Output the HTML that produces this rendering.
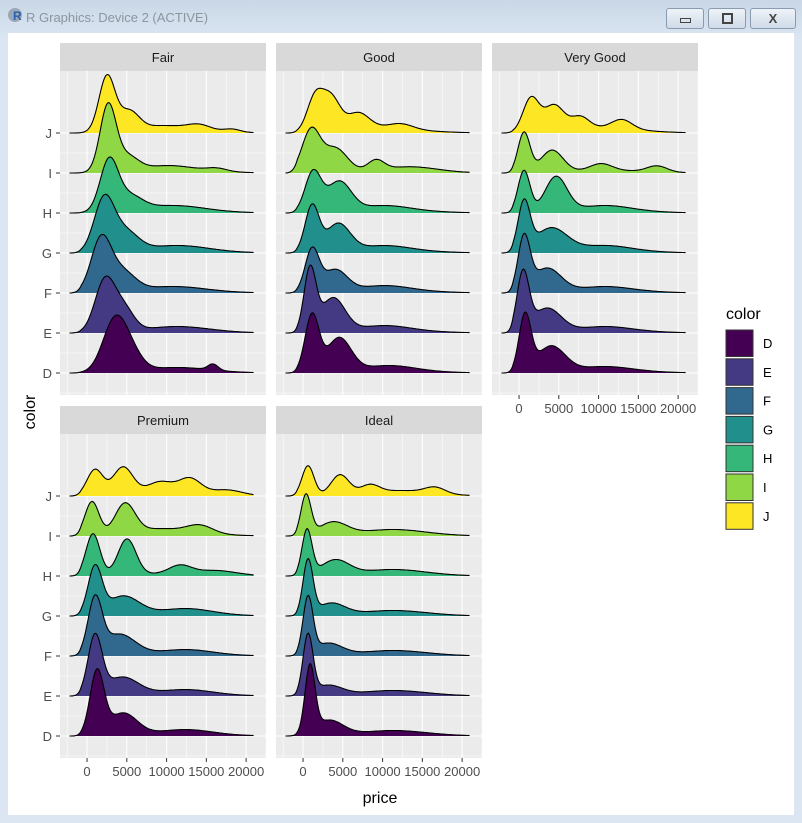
<!DOCTYPE html>
<html><head><meta charset="utf-8"><style>
body{margin:0;width:802px;height:823px;overflow:hidden;background:#dce6f1;font-family:"Liberation Sans",sans-serif}
#win{position:absolute;left:0;top:0;width:802px;height:823px;background:linear-gradient(#c9d7e6,#dbe6f2 40px,#dbe6f2)}
#client{position:absolute;left:8px;top:33px;width:786px;height:782px;background:#fff}
.btn{position:absolute;top:8px;height:19px;border:1px solid #8a9bb0;border-radius:3px;background:linear-gradient(#eef3f8,#cfdbe8)}
</style></head><body>
<div id="win">
<div style="position:absolute;left:8px;top:8px;width:14px;height:14px;border-radius:7px;background:#9aa7b5"></div>
<div style="position:absolute;left:13px;top:9px;font:bold 12px 'Liberation Sans';color:#2a5fb0">R</div>
<div style="position:absolute;left:26px;top:10px;font-size:13px;color:#8c96a0">R Graphics: Device 2 (ACTIVE)</div>
<div class="btn" style="left:666px;width:36px"><div style="position:absolute;left:13px;top:9px;width:9px;height:3px;border:1px solid #444;"></div></div>
<div class="btn" style="left:708px;width:36px"><div style="position:absolute;left:13px;top:4px;width:7px;height:7px;border:2px solid #444;"></div></div>
<div class="btn" style="left:750px;width:44px;text-align:center;font:bold 13px 'Liberation Sans';color:#444;line-height:19px">X</div>
<div id="client"></div>
<svg id="s" width="802" height="823" style="position:absolute;left:0;top:0"></svg>
</div>
<script>
var s=document.getElementById('s'),out='';
var cols=['#440154','#443A83','#31688E','#21908C','#35B779','#8FD744','#FDE725'];
var names=['D','E','F','G','H','I','J'];
var W=206;
function px(L,p){return L+(p+3400)*W/25900;}
var T=[[90,40,2.5]];
var data={
Fair:{J:[[20,8,56],[42,10,20],[75,20,5],[112,12,6],[145,8,3]],
I:[[21,8,66],[40,11,15],[80,25,5],[130,10,3]],
H:[[22,9,50],[42,13,15],[85,30,5]],
G:[[17,10,52],[38,13,20],[90,30,5]],
F:[[14,10,52],[35,13,20],[85,30,4]],
E:[[18,10,52],[37,10,22],[90,30,4]],
D:[[28,12,52],[45,11,14],[90,30,3],[126,5,6]]},
Good:{J:[[12,8,34],[28,9,33],[55,11,16],[98,12,5],[70,30,3]],
I:[[8,9,42],[32,12,24],[73,8,10],[110,25,4]],
H:[[10,8,40],[36,12,30],[80,25,5]],
G:[[9,7,46],[35,12,28],[80,25,5]],
F:[[9,7,42],[32,12,22],[80,25,5]],
E:[[7,6,62],[30,12,34],[80,25,5]],
D:[[9,7,57],[36,12,34],[85,25,5]]},
'Very Good':{J:[[12,8,34],[35,10,26],[61,9,12],[103,10,9],[80,30,3]],
I:[[5,6,40],[33,11,22],[82,11,7],[138,10,6]],
H:[[5,6,42],[37,11,35],[85,25,5]],
G:[[5,6,48],[32,16,24],[85,25,5]],
F:[[5,6,53],[28,14,24],[85,25,4]],
E:[[4,6,58],[28,14,24],[85,25,4]],
D:[[6,6,56],[32,14,26],[85,25,4]]},
Premium:{J:[[8,8,26],[36,10,28],[73,13,12],[103,11,15],[140,15,5]],
I:[[5,7,34],[38,10,30],[113,13,8],[70,25,5]],
H:[[6,7,42],[40,9,36],[93,11,8],[130,20,4]],
G:[[8,7,47],[36,16,19],[100,25,5]],
F:[[8,7,54],[32,16,21],[100,25,4]],
E:[[8,7,58],[35,16,18],[100,25,4]],
D:[[10,7,63],[36,14,22],[100,25,4]]},
Ideal:{J:[[5,6,30],[37,9,20],[67,9,8],[132,10,6],[100,30,3]],
I:[[3,5,40],[30,14,13],[90,30,4]],
H:[[4,5,45],[32,14,15],[90,30,4]],
G:[[5,5,54],[28,14,12],[90,30,3]],
F:[[5,5,56],[25,14,12],[90,30,3]],
E:[[5,5,59],[25,14,10],[90,30,3]],
D:[[7,5,66],[26,14,15],[90,30,3]]}};
function panel(name,L,top,ylab,xlab){
 var B=top+28,H=324;
 out+='<rect x="'+L+'" y="'+top+'" width="'+W+'" height="28" fill="#D9D9D9"/>';
 out+='<text x="'+(L+W/2)+'" y="'+(top+19)+'" font-size="13" text-anchor="middle" fill="#1a1a1a">'+name+'</text>';
 out+='<rect x="'+L+'" y="'+B+'" width="'+W+'" height="'+H+'" fill="#EBEBEB"/>';
 for(var p=-2500;p<=22500;p+=2500){var x=px(L,p);if(x<L||x>L+W)continue;var maj=p%5000==0;
  out+='<line x1="'+x+'" x2="'+x+'" y1="'+B+'" y2="'+(B+H)+'" stroke="#fff" stroke-width="'+(maj?1.1:0.55)+'"/>';}
 var base=function(i){return B+62+40*(6-i);};
 for(var i=0;i<7;i++){out+='<line x1="'+L+'" x2="'+(L+W)+'" y1="'+base(i)+'" y2="'+base(i)+'" stroke="#fff" stroke-width="1.1"/>';
  out+='<line x1="'+L+'" x2="'+(L+W)+'" y1="'+(base(i)+20)+'" y2="'+(base(i)+20)+'" stroke="#fff" stroke-width="0.55"/>';
  if(ylab){out+='<line x1="'+(L-4)+'" x2="'+L+'" y1="'+base(i)+'" y2="'+base(i)+'" stroke="#333"/>';
   out+='<text x="'+(L-8)+'" y="'+(base(i)+5)+'" font-size="13" text-anchor="end" fill="#4d4d4d">'+names[i]+'</text>';}}
 var z=px(L,0),x0=px(L,-2200),x1=px(L,21000);
 for(var i=6;i>=0;i--){var c=data[name][names[i]].concat(T),y0=base(i),d='M'+x0+','+y0,ln='';
  for(var x=x0;x<=x1;x+=1){var dx=x-z,h=0;c.forEach(function(k){h+=k[2]*Math.exp(-0.5*Math.pow((dx-k[0])/k[1],2));});
   var edge=Math.min(1,(x-x0)/12);h=h*edge;var pt=x.toFixed(1)+','+(y0-h).toFixed(1);d+=' L'+pt;ln+=(ln?' L':'M')+pt;}
  d+=' L'+x1+','+y0+' Z';
  out+='<path d="'+d+'" fill="'+cols[i]+'"/><path d="'+ln+'" fill="none" stroke="#000" stroke-width="1.1"/>';}
 if(xlab){var yb=B+H;for(var p=0;p<=20000;p+=5000){var x=px(L,p);
  out+='<line x1="'+x+'" x2="'+x+'" y1="'+yb+'" y2="'+(yb+4)+'" stroke="#333"/>';
  out+='<text x="'+x+'" y="'+(yb+18)+'" font-size="13" text-anchor="middle" fill="#4d4d4d">'+p+'</text>';}}
}
panel('Fair',60,43,true,false);panel('Good',276,43,false,false);panel('Very Good',492,43,false,true);
panel('Premium',60,406,true,true);panel('Ideal',276,406,false,true);
out+='<text x="380" y="803" font-size="16" text-anchor="middle" fill="#000">price</text>';
out+='<text transform="translate(35,412) rotate(-90)" font-size="16" text-anchor="middle" fill="#000">color</text>';
out+='<text x="726" y="319" font-size="16" fill="#000">color</text>';
for(var i=0;i<7;i++){var y=330+i*28.8;out+='<rect x="726" y="'+y+'" width="27" height="26.5" fill="'+cols[i]+'" stroke="#333" stroke-width="1"/>';
 out+='<text x="763" y="'+(y+18)+'" font-size="13" fill="#000">'+names[i]+'</text>';}
s.innerHTML=out;
</script>
</body></html>
